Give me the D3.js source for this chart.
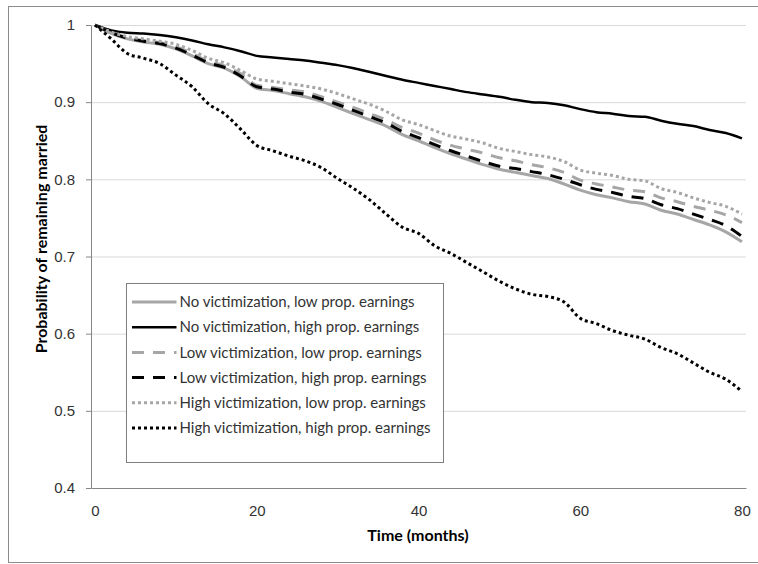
<!DOCTYPE html>
<html>
<head>
<meta charset="utf-8">
<script src="https://cdn.jsdelivr.net/npm/d3@7"></script>
<style>
  body { margin: 0; background: #fff; }
  svg { font-family: Lato, "Liberation Sans", sans-serif; }
  .axis text { font-size: 15px; fill: #333; }
  .axis .domain { stroke: #868686; }
  .axis .tick line { stroke: #868686; }
  .grid line { stroke: #d9d9d9; }
  .grid .domain { display: none; }
</style>
</head>
<body>
<div id="chart"></div>
<script>
  // months, every 2 months from 0 to 80
  var months = d3.range(0, 81, 2);
  var xTicks = [0, 20, 40, 60, 80];
  var yTicks = [0.4, 0.5, 0.6, 0.7, 0.8, 0.9, 1];

  var noVicLow = [1.000, 0.989, 0.982, 0.978, 0.975, 0.969, 0.960, 0.950, 0.944, 0.933,
    0.918, 0.915, 0.911, 0.907, 0.901, 0.893, 0.885, 0.877, 0.869, 0.858,
    0.850, 0.841, 0.833, 0.826, 0.819, 0.813, 0.809, 0.805, 0.801, 0.794,
    0.786, 0.780, 0.776, 0.771, 0.768, 0.760, 0.755, 0.748, 0.741, 0.732, 0.719];
  var noVicHigh = [1.000, 0.993, 0.990, 0.989, 0.987, 0.984, 0.980, 0.975, 0.971, 0.966,
    0.960, 0.958, 0.956, 0.954, 0.951, 0.948, 0.944, 0.939, 0.934, 0.929,
    0.925, 0.921, 0.917, 0.913, 0.910, 0.907, 0.903, 0.900, 0.899, 0.896,
    0.891, 0.887, 0.885, 0.882, 0.881, 0.876, 0.872, 0.869, 0.864, 0.860, 0.853];
  var lowVicLow = [1.000, 0.990, 0.984, 0.980, 0.977, 0.972, 0.963, 0.953, 0.947, 0.937,
    0.922, 0.919, 0.916, 0.913, 0.907, 0.900, 0.893, 0.885, 0.877, 0.867,
    0.860, 0.851, 0.844, 0.839, 0.834, 0.828, 0.824, 0.819, 0.815, 0.809,
    0.799, 0.794, 0.790, 0.786, 0.784, 0.776, 0.771, 0.765, 0.760, 0.754, 0.744];
  var lowVicHigh = [1.000, 0.990, 0.983, 0.979, 0.976, 0.970, 0.961, 0.951, 0.945, 0.934,
    0.920, 0.917, 0.913, 0.910, 0.904, 0.897, 0.889, 0.881, 0.873, 0.862,
    0.854, 0.845, 0.837, 0.830, 0.823, 0.817, 0.814, 0.810, 0.806, 0.800,
    0.793, 0.787, 0.783, 0.778, 0.775, 0.767, 0.762, 0.755, 0.748, 0.740, 0.726];
  var highVicLow = [1.000, 0.991, 0.985, 0.982, 0.979, 0.975, 0.967, 0.957, 0.951, 0.941,
    0.930, 0.927, 0.924, 0.921, 0.917, 0.911, 0.904, 0.897, 0.888, 0.877,
    0.871, 0.863, 0.856, 0.852, 0.847, 0.840, 0.836, 0.832, 0.829, 0.823,
    0.812, 0.808, 0.805, 0.800, 0.798, 0.788, 0.783, 0.776, 0.770, 0.765, 0.755];
  var highVicHigh = [1.000, 0.982, 0.963, 0.957, 0.950, 0.935, 0.920, 0.898, 0.885, 0.865,
    0.844, 0.837, 0.830, 0.824, 0.815, 0.801, 0.788, 0.773, 0.755, 0.738,
    0.730, 0.714, 0.704, 0.692, 0.680, 0.668, 0.658, 0.651, 0.648, 0.641,
    0.620, 0.613, 0.604, 0.598, 0.593, 0.582, 0.574, 0.562, 0.550, 0.541, 0.525];

  var seriesNames = [
    'No victimization, low prop. earnings',
    'No victimization, high prop. earnings',
    'Low victimization, low prop. earnings',
    'Low victimization, high prop. earnings',
    'High victimization, low prop. earnings',
    'High victimization, high prop. earnings'
  ];

  const GREY = '#a6a6a6';
  const BLACK = '#000000';
  var styles = [
    { color: GREY, width: 3, dash: null },
    { color: BLACK, width: 2.5, dash: null },
    { color: GREY, width: 3, dash: '12,9' },
    { color: BLACK, width: 3, dash: '12,9' },
    { color: GREY, width: 3, dash: '3,3' },
    { color: BLACK, width: 3, dash: '3,3' }
  ];
  var values = [noVicLow, noVicHigh, lowVicLow, lowVicHigh, highVicLow, highVicHigh];

  var width = 758;
  var height = 564;
  var plot = { left: 91, right: 746, top: 25, bottom: 488 };

  var svg = d3.select('#chart').append('svg')
    .attr('width', width)
    .attr('height', height);

  /* outer chart border */
  svg.append('rect')
    .attr('x', 8.5).attr('y', 6.5)
    .attr('width', 760).attr('height', 556)
    .attr('fill', 'none')
    .attr('stroke', '#8c8c8c');

  var x = d3.scaleLinear()
    .domain([-0.5, 80.5])
    .range([plot.left, plot.right]);

  var y = d3.scaleLinear()
    .domain([0.4, 1])
    .range([plot.bottom, plot.top]);

  /* gridlines */
  svg.append('g')
    .attr('class', 'grid')
    .attr('transform', 'translate(' + plot.left + ',0)')
    .call(d3.axisLeft(y).tickValues(yTicks.filter(function (d) { return d > 0.4; }))
      .tickSize(-(plot.right - plot.left)).tickFormat(''));

  /* y axis */
  svg.append('g')
    .attr('class', 'axis')
    .attr('transform', 'translate(' + plot.left + ',0)')
    .call(d3.axisLeft(y).tickValues(yTicks).tickSize(5).tickSizeOuter(0)
      .tickPadding(11).tickFormat(d3.format('.1~f')));

  /* x axis */
  svg.append('g')
    .attr('class', 'axis')
    .attr('transform', 'translate(0,' + plot.bottom + ')')
    .call(d3.axisBottom(x).tickValues(xTicks).tickSize(0).tickSizeOuter(0)
      .tickPadding(17));

  /* axis titles */
  svg.append('text')
    .attr('x', 418).attr('y', 541)
    .attr('text-anchor', 'middle')
    .style('font-size', '16px').style('font-weight', 'bold')
    .text('Time (months)');

  svg.append('text')
    .attr('transform', 'translate(47,239) rotate(-90)')
    .attr('text-anchor', 'middle')
    .style('font-size', '16px').style('font-weight', 'bold')
    .text('Probability of remaining married');

  /* series lines */
  var line = d3.line()
    .x(function (d, i) { return x(months[i]); })
    .y(function (d) { return y(d); })
    .curve(d3.curveMonotoneX);

  svg.append('g').selectAll('path')
    .data(values)
    .enter()
    .append('path')
    .attr('d', line)
    .attr('fill', 'none')
    .attr('stroke', function (d, i) { return styles[i].color; })
    .attr('stroke-width', function (d, i) { return styles[i].width; })
    .attr('stroke-dasharray', function (d, i) { return styles[i].dash; })
    .attr('stroke-linejoin', 'round');

  /* legend */
  var legend = svg.append('g').attr('transform', 'translate(126.5,283.5)');
  legend.append('rect')
    .attr('width', 317).attr('height', 179)
    .attr('fill', '#fff')
    .attr('stroke', '#7f7f7f');

  var rows = legend.selectAll('.row')
    .data(seriesNames)
    .enter()
    .append('g')
    .attr('class', 'row')
    .attr('transform', function (d, i) { return 'translate(0,' + (18.5 + i * 25.2) + ')'; });

  rows.append('line')
    .attr('x1', 5.5).attr('x2', 50)
    .attr('stroke', function (d, i) { return styles[i].color; })
    .attr('stroke-width', function (d, i) { return styles[i].width; })
    .attr('stroke-dasharray', function (d, i) { return styles[i].dash; });

  rows.append('text')
    .attr('x', 53).attr('dy', '0.35em')
    .style('font-size', '15px')
    .attr('fill', '#333')
    .text(function (d) { return d; });
</script>
</body>
</html>
